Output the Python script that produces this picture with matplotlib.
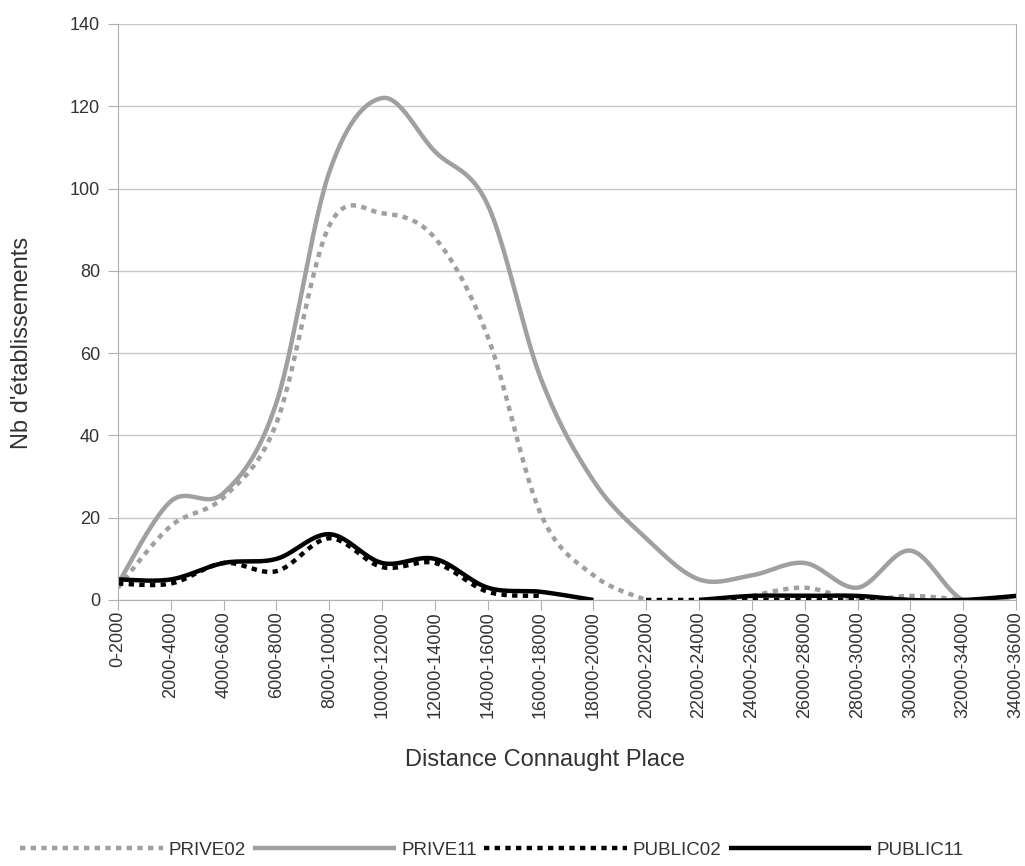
import numpy as np
import matplotlib
matplotlib.use("Agg")
import matplotlib.pyplot as plt

plt.rcParams['font.family'] = ['Liberation Sans', 'DejaVu Sans']

# classes de distance (m)
categories = ["0-2000", "2000-4000", "4000-6000", "6000-8000", "8000-10000",
              "10000-12000", "12000-14000", "14000-16000", "16000-18000",
              "18000-20000", "20000-22000", "22000-24000", "24000-26000",
              "26000-28000", "28000-30000", "30000-32000", "32000-34000",
              "34000-36000"]

nan = np.nan
prive02 = [3, 18, 25, 43, 91, 94, 88, 64, 21, 6, 0, nan, 1, 3, 0, 1, 0, nan]
prive11 = [4, 24, 26, 48, 104, 122, 109, 96, 54, 29, 15, 5, 6, 9, 3, 12, 0, 1]
public02 = [4, 4, 9, 7, 15, 8, 9, 2, 1, nan, 0, 0, 0, 0, 0, 0, nan, nan]
public11 = [5, 5, 9, 10, 16, 9, 10, 3, 2, 0, nan, 0, 1, 1, 1, 0, 0, 1]


def smooth(x, y, n=30):
    # courbe lissee type Excel (bezier / catmull-rom)
    xs, ys = [], []
    for k in range(len(x) - 1):
        p0 = np.array([x[k - 1], y[k - 1]]) if k > 0 else np.array([x[k], y[k]])
        p1 = np.array([x[k], y[k]])
        p2 = np.array([x[k + 1], y[k + 1]])
        p3 = np.array([x[k + 2], y[k + 2]]) if k + 2 < len(x) else p2
        c1 = p1 + (p2 - p0) / 6
        c2 = p2 - (p3 - p1) / 6
        t = np.linspace(0, 1, n)[:, None]
        pts = ((1 - t) ** 3) * p1 + 3 * ((1 - t) ** 2) * t * c1 + 3 * (1 - t) * t ** 2 * c2 + t ** 3 * p2
        xs.extend(pts[:, 0])
        ys.extend(pts[:, 1])
    return np.array(xs), np.array(ys)


def plot_series(ax, values, label, **kw):
    v = np.array(values, dtype=float)
    idx = np.arange(len(v))
    ok = ~np.isnan(v)
    first = True
    # une courbe par morceau continu
    start = None
    for i in range(len(v) + 1):
        if i < len(v) and ok[i]:
            if start is None:
                start = i
        else:
            if start is not None:
                seg = idx[start:i]
                if len(seg) > 1:
                    sx, sy = smooth(seg, v[start:i])
                    ax.plot(sx, sy, label=label if first else None, **kw)
                    first = False
                start = None


fig = plt.figure(figsize=(10.25, 8.66), dpi=100)
ax = fig.add_axes([118 / 1025, 1 - 600 / 866, (1016 - 118) / 1025, (600 - 24) / 866])

gray = '#a0a0a0'
plot_series(ax, prive02, 'PRIVE02', color=gray, lw=3.2, dashes=(1.2, 1.2), dash_capstyle='butt')
plot_series(ax, prive11, 'PRIVE11', color=gray, lw=3.2, solid_capstyle='butt')
plot_series(ax, public02, 'PUBLIC02', color='black', lw=3.2, dashes=(1.2, 1.2), dash_capstyle='butt')
plot_series(ax, public11, 'PUBLIC11', color='black', lw=3.2, solid_capstyle='butt')

ax.set_xlim(0, len(categories) - 1)
ax.set_ylim(0, 140)
ax.set_yticks(np.arange(0, 141, 20))
ax.set_xticks(np.arange(len(categories)))
ax.set_xticklabels(categories, rotation=90, fontsize=13, color='#333333')
ax.tick_params(axis='y', labelsize=13, labelcolor='#333333', length=7, color='#b0b0b0', pad=6)
ax.tick_params(axis='x', length=7, color='#b0b0b0', pad=1)

ax.grid(axis='y', color='#c8c8c8', lw=1)
ax.set_axisbelow(True)
for side in ['left', 'bottom', 'right']:
    ax.spines[side].set_color('#b0b0b0')
ax.spines['top'].set_visible(False)

fig.text(22 / 1025, 1 - 343 / 866, "Nb d'établissements", fontsize=17, color='#333333',
         rotation=90, ha='center', va='center')
fig.text(545 / 1025, 1 - 760 / 866, "Distance Connaught Place", fontsize=17, color='#333333',
         ha='center', va='center')

fig.legend(loc='center', bbox_to_anchor=(492 / 1025, 1 - 850 / 866), ncol=4, frameon=False,
           fontsize=13.5, handlelength=7.6, columnspacing=0.4, handletextpad=0.3,
           labelcolor='#333333')

fig.savefig("out.png", dpi=100)
